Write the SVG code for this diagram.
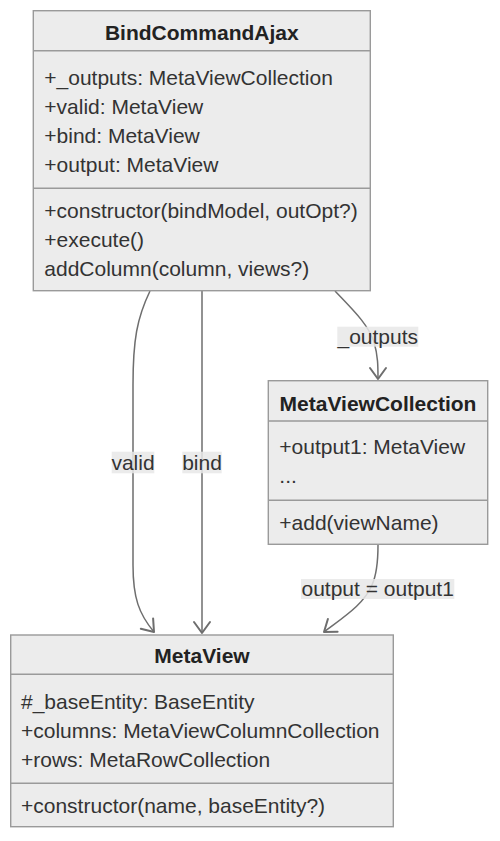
<svg xmlns="http://www.w3.org/2000/svg" width="500" height="841" viewBox="0 0 500 841">
<style>
.box{fill:#ececec;stroke:#9a9a9a;stroke-width:1.4}
.div{stroke:#9a9a9a;stroke-width:1.4}
.t{font-family:"Liberation Sans",Arial,sans-serif;font-size:21px;fill:#333}
.title{font-family:"Liberation Sans",Arial,sans-serif;font-size:21px;font-weight:bold;fill:#222;text-anchor:middle}
.edge{fill:none;stroke:#6e6e6e;stroke-width:1.5}
.lbg{fill:#e8e8e8;opacity:0.85}
.lt{font-family:"Liberation Sans",Arial,sans-serif;font-size:21px;fill:#333;text-anchor:middle}
</style>
<defs>
<marker id="arr" markerUnits="userSpaceOnUse" markerWidth="24" markerHeight="24" viewBox="-14 -12 16 24" refX="0" refY="0" orient="auto">
<path d="M-11,-8 L0,0 L-11,8" fill="none" stroke="#6e6e6e" stroke-width="2" stroke-linejoin="round" stroke-linecap="round"/>
</marker>
</defs>
<g id="connectors">
<path class="edge" d="M150,291 C137,318 133,340 133,385 L133,565 C133,598 139,614 154,632" marker-end="url(#arr)"/>
<path class="edge" d="M202,291 L202,633" marker-end="url(#arr)"/>
<path class="edge" d="M335,291 C353,310 368,324 374,342 C378,356 378,366 378,379" marker-end="url(#arr)"/>
<path class="edge" d="M378,545 C378,562 377,574 372,585 C364,604 345,616 324,632" marker-end="url(#arr)"/>
<g id="label-valid"><rect class="lbg" x="111.7" y="451.7" width="42.6" height="21.6"/><text class="lt" x="133" y="469.5">valid</text></g>
<g id="label-bind"><rect class="lbg" x="182.3" y="451.7" width="39.4" height="21.6"/><text class="lt" x="202" y="469.5">bind</text></g>
<g id="label-outputs"><rect class="lbg" x="337.3" y="326.7" width="81" height="20"/><text class="lt" x="377.8" y="343.8">_outputs</text></g>
<g id="label-output"><rect class="lbg" x="301" y="579" width="153.3" height="20"/><text class="lt" x="377.7" y="596.2">output = output1</text></g>
</g>
<g id="BindCommandAjax">
<rect class="box" x="33.3" y="10.7" width="337" height="280"/>
<line class="div" x1="33.3" y1="50.7" x2="370.3" y2="50.7"/>
<line class="div" x1="33.3" y1="188.3" x2="370.3" y2="188.3"/>
<text class="title" x="201.8" y="40">BindCommandAjax</text>
<text class="t" x="44.3" y="84.5">+_outputs: MetaViewCollection</text>
<text class="t" x="44.3" y="113.7">+valid: MetaView</text>
<text class="t" x="44.3" y="142.9">+bind: MetaView</text>
<text class="t" x="44.3" y="172.1">+output: MetaView</text>
<text class="t" x="44.3" y="218">+constructor(bindModel, outOpt?)</text>
<text class="t" x="44.3" y="247.2">+execute()</text>
<text class="t" x="44.3" y="276.4">addColumn(column, views?)</text>
</g>
<g id="MetaViewCollection">
<rect class="box" x="268.3" y="380.7" width="219.4" height="163.6"/>
<line class="div" x1="268.3" y1="421" x2="487.7" y2="421"/>
<line class="div" x1="268.3" y1="500.3" x2="487.7" y2="500.3"/>
<text class="title" x="378" y="410.8">MetaViewCollection</text>
<text class="t" x="279.3" y="454.3">+output1: MetaView</text>
<text class="t" x="279.3" y="483.3">...</text>
<text class="t" x="279.3" y="530">+add(viewName)</text>
</g>
<g id="MetaView">
<rect class="box" x="10.7" y="635" width="382.6" height="191.7"/>
<line class="div" x1="10.7" y1="674.3" x2="393.3" y2="674.3"/>
<line class="div" x1="10.7" y1="783.3" x2="393.3" y2="783.3"/>
<text class="title" x="202" y="663.3">MetaView</text>
<text class="t" x="21" y="708.6">#_baseEntity: BaseEntity</text>
<text class="t" x="21" y="737.8">+columns: MetaViewColumnCollection</text>
<text class="t" x="21" y="767">+rows: MetaRowCollection</text>
<text class="t" x="21" y="812.6">+constructor(name, baseEntity?)</text>
</g>
</svg>
